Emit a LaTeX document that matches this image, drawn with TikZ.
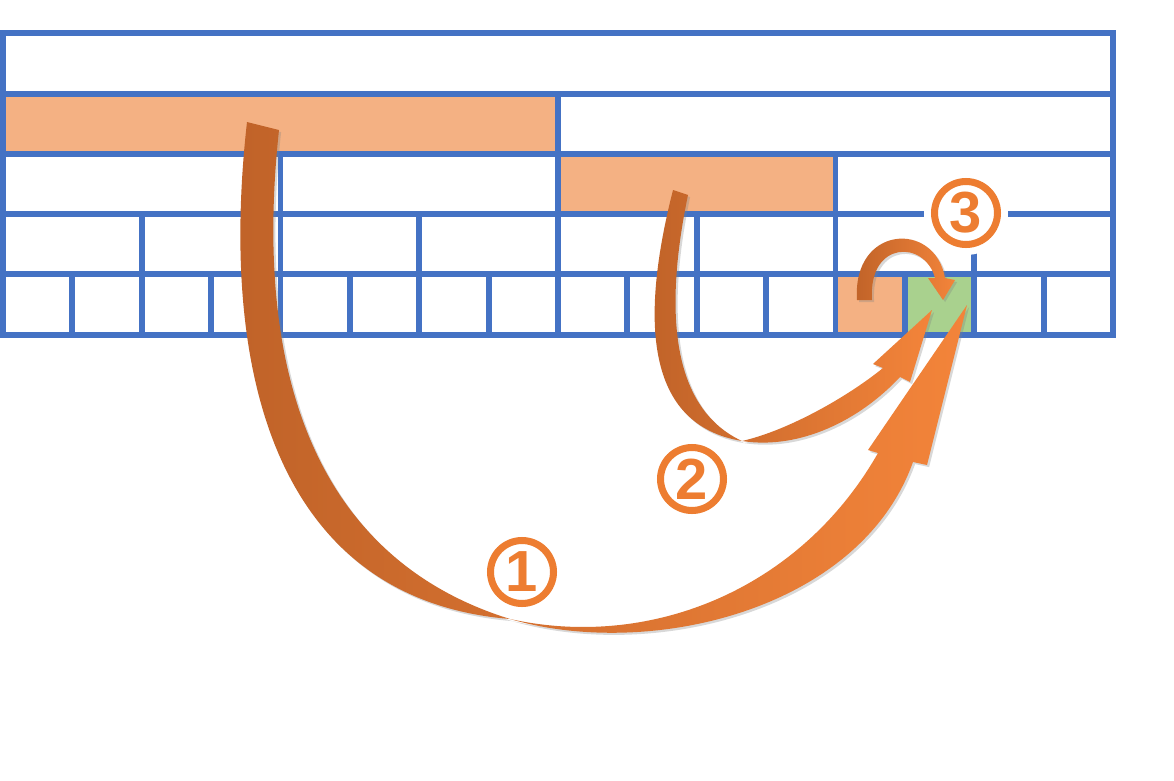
\documentclass[tikz,border=0pt]{standalone}
\usepackage{fontspec}
\newfontfamily\numfont{Liberation Sans}
\usetikzlibrary{shadows}

\definecolor{gridblue}{HTML}{4472C4}
\definecolor{cellorange}{HTML}{F4B183}
\definecolor{cellgreen}{HTML}{A9D18E}
\definecolor{arrowbrown}{HTML}{BF6228}
\definecolor{arroworange}{HTML}{F3843A}
\definecolor{numorange}{HTML}{ED7D31}

\tikzset{
  grid line/.style={line width=3.4pt, gridblue},
  ribbon/.style={left color=arrowbrown, right color=arroworange,
    drop shadow={opacity=0.3, shadow xshift=1.2pt, shadow yshift=-1.2pt}},
  numcirc/.style={circle, draw=numorange, fill=white, line width=4pt,
    minimum size=1.26cm, inner sep=0pt, text=numorange,
    font=\numfont\bfseries\fontsize{33}{33}\selectfont},
}

\begin{document}
\begin{tikzpicture}[x=0.02cm, y=-0.02cm]
    %% Background
    \draw[draw=none, fill=white] (0,0) rectangle (1174,781);

    %% Marked cells
    \fill[cellorange] (3,94) rectangle (558,154);
    \fill[cellorange] (558,154) rectangle (835.5,214);
    \fill[cellorange] (835.5,274) rectangle (905,335);
    \fill[cellgreen] (905,274) rectangle (974.25,335);

    %% Tree of cells
    \draw[grid line] (3,33) rectangle (1113,335);
    \foreach \y in {94,154,214,274}
        \draw[grid line] (3,\y) -- (1113,\y);
    \foreach \k in {8}
        \draw[grid line] ({3+69.375*\k},94) -- ({3+69.375*\k},335);
    \foreach \k in {4,12}
        \draw[grid line] ({3+69.375*\k},154) -- ({3+69.375*\k},335);
    \foreach \k in {2,6,10,14}
        \draw[grid line] ({3+69.375*\k},214) -- ({3+69.375*\k},335);
    \foreach \k in {1,3,...,15}
        \draw[grid line] ({3+69.375*\k},274) -- ({3+69.375*\k},335);

    %% Glow behind 3
    \fill[white] (966,213) circle (42);
    \node[numcirc] (three) at (966,213) {3};

    %% Arrow 1
    \shade[ribbon]
    (247,122) .. controls (218,380) and (280,600) .. (510,619)
    .. controls (320,560) and (252,380) .. (279,130) -- cycle
    (510,619) .. controls (650,660) and (860,610) .. (913,462)
    -- (927,465) -- (967,305) -- (868,450) -- (878,453)
    .. controls (800,590) and (650,650) .. (510,619) -- cycle;

    %% Arrow 2
    \shade[ribbon]
    (673,190) .. controls (640,320) and (645,425) .. (742,441)
    .. controls (675,410) and (662,320) .. (688,195) -- cycle
    (742,441) .. controls (800,450) and (860,420) .. (900,377)
    -- (910,382) -- (932,310) -- (873,364) -- (883,368)
    .. controls (850,395) and (790,430) .. (742,441) -- cycle;

    %% Arrow 3
    \shade[ribbon]
    (857,300) .. controls (852,225) and (935,220) .. (945,278)
    -- (955,280) -- (943,300) -- (928,278) -- (935,278)
    .. controls (925,240) and (868,240) .. (872,300) -- cycle;

    %% Steps
    \node[numcirc] (one) at (522,572) {1};
    \node[numcirc] (two) at (692,479) {2};

\end{tikzpicture}
\end{document}
